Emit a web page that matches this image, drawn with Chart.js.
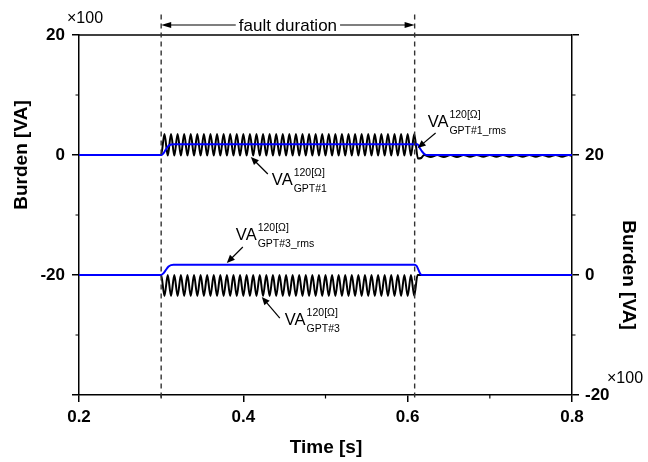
<!DOCTYPE html>
<html>
<head>
<meta charset="utf-8">
<script src="https://cdn.jsdelivr.net/npm/chart.js@4.4.1/dist/chart.umd.min.js"></script>
<style>
html,body{margin:0;padding:0;background:#fff;}
#wrap{width:648px;height:462px;}
</style>
</head>
<body>
<div id="wrap"><canvas id="c" width="648" height="462"></canvas></div>
<script>
const FONT = '"Liberation Sans", Arial, Helvetica, sans-serif';

// Fault window [s]
const faultStart = 0.300;
const faultEnd = 0.6085;

// Axis ticks (values in x100 VA)
const timeTicks = [0.2, 0.4, 0.6, 0.8];
const timeMinor = [0.3, 0.5, 0.7];
const leftTicks = [-40, -20, 0, 20];
const leftMinor = [-30, -10, 10];
const rightTicks = [-20, 0, 20, 40];
const rightMinor = [-10, 10, 30];

// Pre-fault samples
const preTime = [0.2];
const gpt1Pre = [0];
const gpt3Pre = [0];

// Samples during the fault (half-cycle extremes of the burden waveform)
const faultTime = [
  0.300,0.304,0.308,0.312,0.316,0.320,0.324,0.328,0.332,0.336,
  0.340,0.344,0.348,0.352,0.356,0.360,0.364,0.368,0.372,0.376,
  0.380,0.384,0.388,0.392,0.396,0.400,0.404,0.408,0.412,0.416,
  0.420,0.424,0.428,0.432,0.436,0.440,0.444,0.448,0.452,0.456,
  0.460,0.464,0.468,0.472,0.476,0.480,0.484,0.488,0.492,0.496,
  0.500,0.504,0.508,0.512,0.516,0.520,0.524,0.528,0.532,0.536,
  0.540,0.544,0.548,0.552,0.556,0.560,0.564,0.568,0.572,0.576,
  0.580,0.584,0.588,0.592,0.596,0.600,0.604,0.608
];
const gpt1Fault = [
  0,
  3.5,-0.1,3.5,-0.1,3.5,-0.1,3.5,-0.1,3.5,-0.1,
  3.5,-0.1,3.5,-0.1,3.5,-0.1,3.5,-0.1,3.5,-0.1,
  3.5,-0.1,3.5,-0.1,3.5,-0.1,3.5,-0.1,3.5,-0.1,
  3.5,-0.1,3.5,-0.1,3.5,-0.1,3.5,-0.1,3.5,-0.1,
  3.5,-0.1,3.5,-0.1,3.5,-0.1,3.5,-0.1,3.5,-0.1,
  3.5,-0.1,3.5,-0.1,3.5,-0.1,3.5,-0.1,3.5,-0.1,
  3.5,-0.1,3.5,-0.1,3.5,-0.1,3.5,-0.1,3.5,-0.1,
  3.5,-0.1,3.5,-0.1,3.5,-0.1,
  3.5
];
const gpt3Fault = [
  0,
  -3.5,0,-3.5,0,-3.5,0,-3.5,0,-3.5,0,
  -3.5,0,-3.5,0,-3.5,0,-3.5,0,-3.5,0,
  -3.5,0,-3.5,0,-3.5,0,-3.5,0,-3.5,0,
  -3.5,0,-3.5,0,-3.5,0,-3.5,0,-3.5,0,
  -3.5,0,-3.5,0,-3.5,0,-3.5,0,-3.5,0,
  -3.5,0,-3.5,0,-3.5,0,-3.5,0,-3.5,0,
  -3.5,0,-3.5,0,-3.5,0,-3.5,0,-3.5,0,
  -3.5,0,-3.5,0,-3.5,0,
  -3.5
];

// Post-fault samples
const gpt1PostTime = [
  0.6125,0.6165,0.620,
  0.628,0.636,0.644,0.652,0.660,0.668,0.676,0.684,0.692,0.700,0.708,
  0.716,0.724,0.732,0.740,0.748,0.756,0.764,0.772,0.780,0.788,0.796,
  0.800
];
const gpt1Post = [
  -0.6,-0.5,0,
  -0.35,0,-0.35,0,-0.35,0,-0.3,0,-0.3,0,-0.3,
  0,-0.3,0,-0.3,0,-0.3,0,-0.3,0,-0.3,0,
  -0.15
];
const gpt3PostTime = [0.612, 0.800];
const gpt3Post = [0, 0];

// RMS burden
const rms1Time = [0.2, 0.300, 0.303, 0.306, 0.309, 0.312, 0.316, 0.612, 0.6145, 0.618, 0.6215, 0.624, 0.8];
const rms1 = [0, 0, 0.3, 1.0, 1.55, 1.75, 1.8, 1.8, 1.2, 0.5, 0.05, 0, 0];
const rms3Time = [0.2, 0.300, 0.303, 0.306, 0.309, 0.312, 0.315, 0.608, 0.611, 0.613, 0.615, 0.617, 0.8];
const rms3 = [0, 0, 0.3, 0.9, 1.4, 1.65, 1.7, 1.7, 1.5, 0.9, 0.3, 0, 0];

const pts = (ts, vs) => ts.map((t, i) => ({ x: t, y: vs[i] }));

const gpt1Data = pts(preTime, gpt1Pre).concat(pts(faultTime, gpt1Fault), pts(gpt1PostTime, gpt1Post));
const gpt3Data = pts(preTime, gpt3Pre).concat(pts(faultTime, gpt3Fault), pts(gpt3PostTime, gpt3Post));

// Callouts: text anchor, arrow tail and arrow tip in (time, burden) units
const callouts = [
  { sub: 'GPT#1',     axis: 'y',  at: [0.4347, -5.0], tail: [0.4298, -3.17], tip: [0.4091, -0.33] },
  { sub: 'GPT#1_rms', axis: 'y',  at: [0.6243, 4.67], tail: [0.6340, 3.67],  tip: [0.6122, 1.17] },
  { sub: 'GPT#3_rms', axis: 'y2', at: [0.3909, 5.83], tail: [0.3994, 4.67],  tip: [0.3799, 2.0] },
  { sub: 'GPT#3',     axis: 'y2', at: [0.4505, -8.33], tail: [0.4444, -7.17], tip: [0.4225, -3.67] }
];
const durationLevel = 21.67;   // left-axis level of the "fault duration" arrow
const markerTop = 23.4;
const markerBottom = -40.5;

function arrow(ctx, x1, y1, x2, y2, len, half) {
  const a = Math.atan2(y2 - y1, x2 - x1);
  ctx.beginPath();
  ctx.moveTo(x1, y1);
  ctx.lineTo(x2 - Math.cos(a) * len * 0.8, y2 - Math.sin(a) * len * 0.8);
  ctx.stroke();
  ctx.beginPath();
  ctx.moveTo(x2, y2);
  ctx.lineTo(x2 - Math.cos(a) * len - Math.sin(a) * half, y2 - Math.sin(a) * len + Math.cos(a) * half);
  ctx.lineTo(x2 - Math.cos(a) * len + Math.sin(a) * half, y2 - Math.sin(a) * len - Math.cos(a) * half);
  ctx.closePath();
  ctx.fill();
}

const overlay = {
  id: 'overlay',
  afterDatasetsDraw(chart) {
    const { ctx, chartArea: ca, scales } = chart;
    const sx = scales.x, sy = scales.y, sy2 = scales.y2;
    ctx.save();

    // top frame line
    ctx.strokeStyle = '#000';
    ctx.lineWidth = 1.5;
    ctx.beginPath();
    ctx.moveTo(ca.left, ca.top);
    ctx.lineTo(ca.right, ca.top);
    ctx.stroke();

    // minor ticks
    ctx.lineWidth = 1.2;
    ctx.beginPath();
    leftMinor.forEach(v => { const p = sy.getPixelForValue(v); ctx.moveTo(ca.left - 3.5, p); ctx.lineTo(ca.left, p); });
    rightMinor.forEach(v => { const p = sy2.getPixelForValue(v); ctx.moveTo(ca.right, p); ctx.lineTo(ca.right + 3.5, p); });
    timeMinor.forEach(v => { const p = sx.getPixelForValue(v); ctx.moveTo(p, ca.bottom); ctx.lineTo(p, ca.bottom + 3.5); });
    ctx.stroke();

    // fault markers
    ctx.strokeStyle = '#333';
    ctx.lineWidth = 1.4;
    ctx.setLineDash([5, 4]);
    [faultStart, faultEnd].forEach(t => {
      const px = sx.getPixelForValue(t);
      ctx.beginPath();
      ctx.moveTo(px, sy.getPixelForValue(markerTop));
      ctx.lineTo(px, sy.getPixelForValue(markerBottom));
      ctx.stroke();
    });
    ctx.setLineDash([]);

    // fault duration arrow
    ctx.strokeStyle = '#000';
    ctx.fillStyle = '#000';
    ctx.lineWidth = 1.2;
    const xa = sx.getPixelForValue(faultStart), xb = sx.getPixelForValue(faultEnd);
    const ya = sy.getPixelForValue(durationLevel);
    ctx.font = `17px ${FONT}`;
    const label = 'fault duration';
    const tw = ctx.measureText(label).width;
    const xm = (xa + xb) / 2;
    ctx.textAlign = 'center';
    ctx.textBaseline = 'alphabetic';
    ctx.fillText(label, xm, ya + 6);
    arrow(ctx, xm - tw / 2 - 3, ya, xa, ya, 10, 3);
    arrow(ctx, xm + tw / 2 + 3, ya, xb, ya, 10, 3);

    // callouts
    ctx.textAlign = 'left';
    callouts.forEach(c => {
      const ys = c.axis === 'y' ? sy : sy2;
      arrow(ctx, sx.getPixelForValue(c.tail[0]), ys.getPixelForValue(c.tail[1]),
                 sx.getPixelForValue(c.tip[0]), ys.getPixelForValue(c.tip[1]), 8, 3.5);
      const x = sx.getPixelForValue(c.at[0]);
      const y = ys.getPixelForValue(c.at[1]);
      ctx.font = `16.5px ${FONT}`;
      ctx.fillText('VA', x, y);
      const w = ctx.measureText('VA').width;
      ctx.font = `10.5px ${FONT}`;
      ctx.fillText('120[\u03A9]', x + w + 1, y - 9);
      ctx.fillText(c.sub, x + w + 1, y + 7);
    });

    // axis titles
    ctx.font = `bold 19px ${FONT}`;
    ctx.textAlign = 'center';
    ctx.textBaseline = 'middle';
    ctx.fillText('Time [s]', (ca.left + ca.right) / 2 + 0.5, 448);
    ctx.save();
    ctx.translate(22, sy.getPixelForValue(0));
    ctx.rotate(-Math.PI / 2);
    ctx.fillText('Burden [VA]', 0, 0);
    ctx.restore();
    ctx.save();
    ctx.translate(628, sy2.getPixelForValue(0));
    ctx.rotate(Math.PI / 2);
    ctx.fillText('Burden [VA]', 0, 0);
    ctx.restore();

    // scale multipliers
    ctx.font = `16px ${FONT}`;
    ctx.textAlign = 'left';
    ctx.textBaseline = 'alphabetic';
    ctx.fillText('\u00D7100', 67, 23);
    ctx.fillText('\u00D7100', 607, 383);

    ctx.restore();
  }
};

const tickFont = { family: FONT, size: 17, weight: 'bold' };

new Chart(document.getElementById('c'), {
  type: 'line',
  data: {
    datasets: [
      { label: 'VA GPT#1 rms', data: pts(rms1Time, rms1), yAxisID: 'y', borderColor: '#0000ff', borderWidth: 2, pointRadius: 0, cubicInterpolationMode: 'monotone', order: 0 },
      { label: 'VA GPT#3 rms', data: pts(rms3Time, rms3), yAxisID: 'y2', borderColor: '#0000ff', borderWidth: 2, pointRadius: 0, cubicInterpolationMode: 'monotone', order: 0 },
      { label: 'VA GPT#1', data: gpt1Data, yAxisID: 'y', borderColor: '#000', borderWidth: 2, pointRadius: 0, cubicInterpolationMode: 'monotone', order: 1 },
      { label: 'VA GPT#3', data: gpt3Data, yAxisID: 'y2', borderColor: '#000', borderWidth: 2, pointRadius: 0, cubicInterpolationMode: 'monotone', order: 1 }
    ]
  },
  options: {
    responsive: false,
    animation: false,
    devicePixelRatio: 1,
    layout: { padding: { top: 35, left: 0, right: 0, bottom: 0 } },
    plugins: { legend: { display: false }, tooltip: { enabled: false } },
    scales: {
      x: {
        type: 'linear', position: 'bottom', min: 0.2, max: 0.8,
        afterBuildTicks: s => { s.ticks = timeTicks.map(v => ({ value: v })); },
        afterFit: s => { s.height = 67; },
        ticks: { font: tickFont, color: '#000', padding: 5, maxRotation: 0, autoSkip: false, callback: v => v.toFixed(1) },
        grid: { drawOnChartArea: false, drawTicks: true, tickLength: 7, color: '#000', lineWidth: 1.5 },
        border: { display: true, color: '#000', width: 1.5 }
      },
      y: {
        type: 'linear', position: 'left', min: -40, max: 20,
        afterBuildTicks: s => { s.ticks = leftTicks.map(v => ({ value: v })); },
        afterFit: s => { s.width = 79; },
        ticks: { font: tickFont, color: '#000', padding: 7, autoSkip: false, callback: v => (v === -40 ? '' : String(v)) },
        grid: { drawOnChartArea: false, drawTicks: true, tickLength: 7, color: '#000', lineWidth: 1.5 },
        border: { display: true, color: '#000', width: 1.5 }
      },
      y2: {
        type: 'linear', position: 'right', min: -20, max: 40,
        afterBuildTicks: s => { s.ticks = rightTicks.map(v => ({ value: v })); },
        afterFit: s => { s.width = 76; },
        ticks: { font: tickFont, color: '#000', padding: 6, autoSkip: false, callback: v => (v === 40 ? '' : String(v)) },
        grid: { drawOnChartArea: false, drawTicks: true, tickLength: 7, color: '#000', lineWidth: 1.5 },
        border: { display: true, color: '#000', width: 1.5 }
      }
    }
  },
  plugins: [overlay]
});
</script>
</body>
</html>
